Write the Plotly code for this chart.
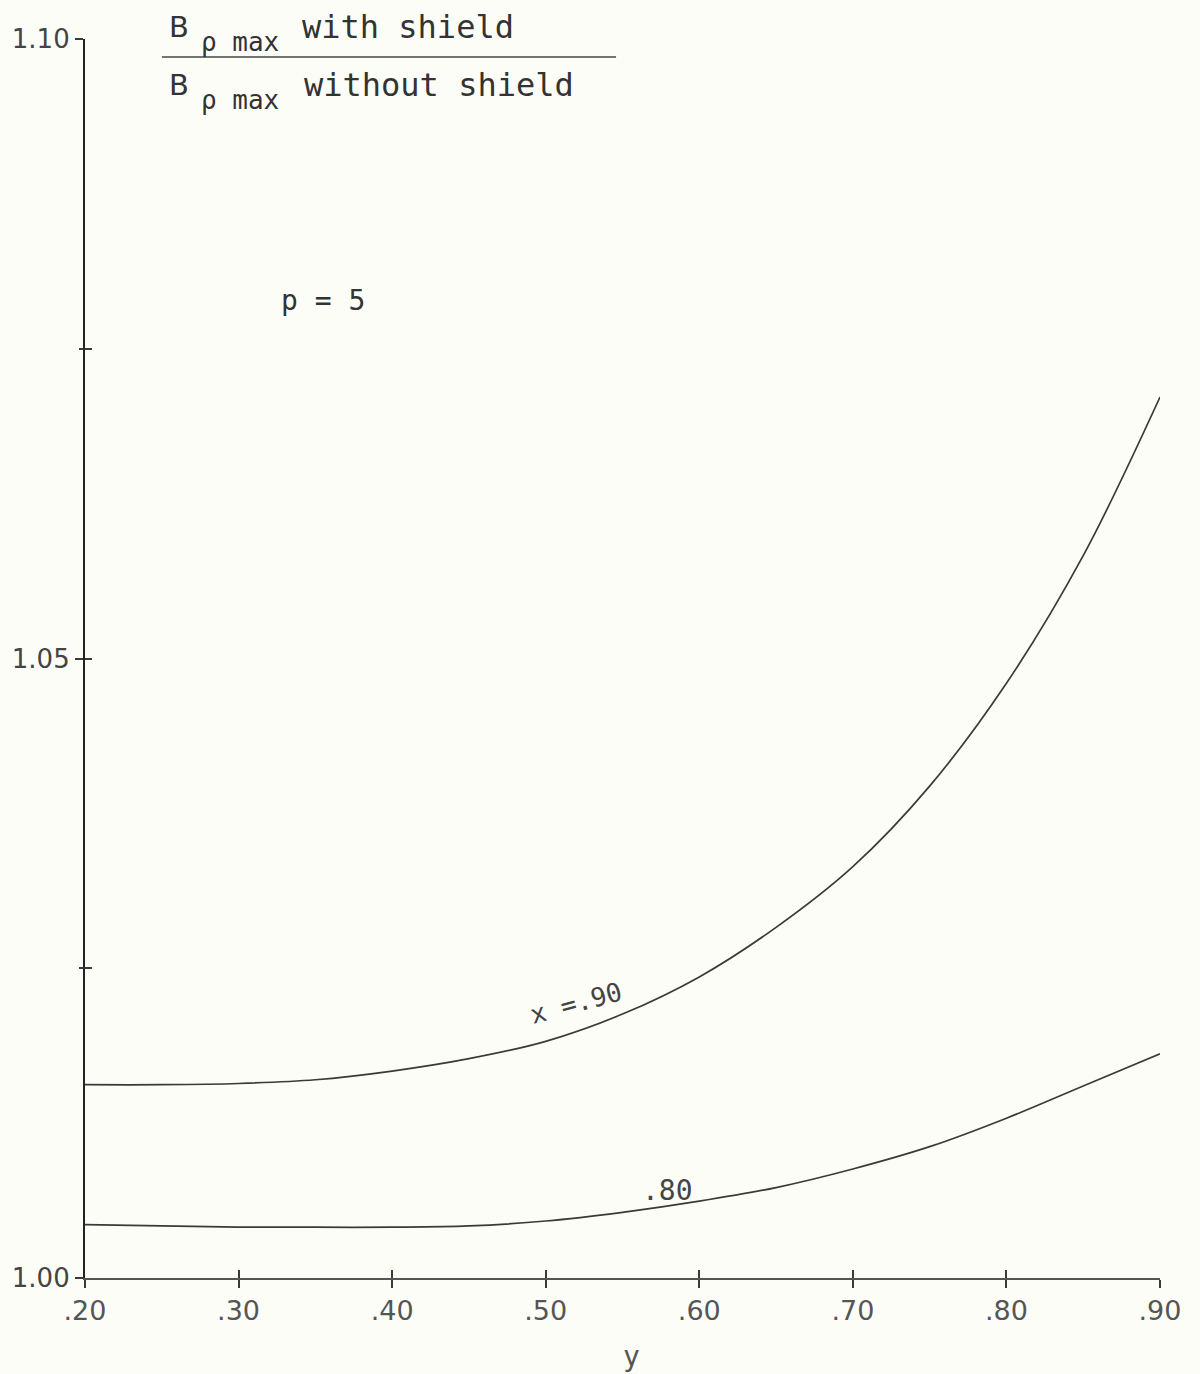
import plotly.graph_objects as go

# ---- data ----
y_vals = [0.20, 0.25, 0.30, 0.35, 0.40, 0.45, 0.50, 0.55, 0.60, 0.65, 0.70, 0.75, 0.80, 0.85, 0.90]
ratio_x90 = [1.0156, 1.0156, 1.0157, 1.0160, 1.0167, 1.0177, 1.0191, 1.0213, 1.0243, 1.0283,
             1.0332, 1.0397, 1.0480, 1.0583, 1.0711]
ratio_x80 = [1.0043, 1.0042, 1.0041, 1.0041, 1.0041, 1.0042, 1.0046, 1.0053, 1.0062, 1.0073,
             1.0088, 1.0106, 1.0129, 1.0155, 1.0181]

x_tickvals = [0.20, 0.30, 0.40, 0.50, 0.60, 0.70, 0.80, 0.90]
x_ticktext = [".20", ".30", ".40", ".50", ".60", ".70", ".80", ".90"]
y_label_vals = [1.00, 1.05, 1.10]
y_label_text = ["1.00", "1.05", "1.10"]
y_minor_vals = [1.025, 1.075]
y_all_vals = [1.00, 1.025, 1.05, 1.075, 1.10]

INK = "#3a3a3a"
BG = "#fdfdf8"
SANS = "DejaVu Sans"
MONO = "DejaVu Sans Mono"

fig = go.Figure()
for vals in (ratio_x90, ratio_x80):
    fig.add_trace(go.Scatter(x=y_vals, y=vals, mode="lines",
                             line=dict(color=INK, width=1.7, shape="spline", smoothing=1.0),
                             showlegend=False, hoverinfo="skip"))

# invisible traces so the overlay (tick-only) axes are drawn
fig.add_trace(go.Scatter(x=[0.2], y=[1.0], xaxis="x2", yaxis="y2", mode="markers",
                         marker=dict(opacity=0), showlegend=False, hoverinfo="skip"))
fig.add_trace(go.Scatter(x=[0.2], y=[1.0], xaxis="x2", yaxis="y3", mode="markers",
                         marker=dict(opacity=0), showlegend=False, hoverinfo="skip"))

fig.update_layout(
    width=1200, height=1374,
    margin=dict(l=83, r=40, t=39, b=96),
    paper_bgcolor=BG, plot_bgcolor=BG,
    font=dict(family=MONO, color=INK),
    xaxis=dict(range=[0.2, 0.9], tickvals=x_tickvals, ticktext=x_ticktext,
               ticks="outside", ticklen=8, tickwidth=1.5, tickcolor=INK,
               showline=True, linecolor="#555", linewidth=1.5, showgrid=False, zeroline=False,
               tickfont=dict(family=SANS, size=27, color="#555")),
    yaxis=dict(range=[1.0, 1.1], tickvals=y_label_vals, ticktext=y_label_text,
               ticks="outside", ticklen=8, tickwidth=1.5, tickcolor=INK,
               showline=True, linecolor="#222", linewidth=2.2, showgrid=False, zeroline=False,
               tickfont=dict(family=SANS, size=26, color="#444")),
    xaxis2=dict(range=[0.2, 0.9], overlaying="x", tickvals=x_tickvals, showticklabels=False,
                ticks="inside", ticklen=8, tickwidth=1.5, tickcolor=INK,
                showline=False, showgrid=False, zeroline=False),
    yaxis2=dict(range=[1.0, 1.1], overlaying="y", tickvals=y_all_vals, showticklabels=False,
                ticks="inside", ticklen=7, tickwidth=1.5, tickcolor=INK,
                showline=False, showgrid=False, zeroline=False),
    yaxis3=dict(range=[1.0, 1.1], overlaying="y", tickvals=y_minor_vals, showticklabels=False,
                ticks="outside", ticklen=5, tickwidth=1.5, tickcolor=INK,
                showline=False, showgrid=False, zeroline=False),
)

TXT = "#333"
# fraction label (numerator / denominator)
fig.add_annotation(xref="paper", yref="paper", x=0.0761, y=1.0097, xanchor="left", yanchor="middle",
                   text="B", showarrow=False, font=dict(family=SANS, size=29, color=TXT))
fig.add_annotation(xref="paper", yref="paper", x=0.1060, y=0.9975, xanchor="left", yanchor="middle",
                   text="ρ max", showarrow=False, font=dict(family=MONO, size=26, color=TXT))
fig.add_annotation(xref="paper", yref="paper", x=0.1996, y=1.0097, xanchor="left", yanchor="middle",
                   text="with shield", showarrow=False, font=dict(family=MONO, size=32, color=TXT))
fig.add_shape(type="line", xref="paper", yref="paper", x0=0.0715, x1=0.494,
              y0=0.9855, y1=0.9855, line=dict(color="#444", width=1.6))
fig.add_annotation(xref="paper", yref="paper", x=0.0761, y=0.9628, xanchor="left", yanchor="middle",
                   text="B", showarrow=False, font=dict(family=SANS, size=29, color=TXT))
fig.add_annotation(xref="paper", yref="paper", x=0.1060, y=0.9510, xanchor="left", yanchor="middle",
                   text="ρ max", showarrow=False, font=dict(family=MONO, size=26, color=TXT))
fig.add_annotation(xref="paper", yref="paper", x=0.2015, y=0.9628, xanchor="left", yanchor="middle",
                   text="without shield", showarrow=False, font=dict(family=MONO, size=32, color=TXT))

fig.add_annotation(xref="paper", yref="paper", x=0.180, y=0.789, xanchor="left", yanchor="middle",
                   text="p = 5", showarrow=False, font=dict(family=MONO, size=28, color=TXT))

# x-axis title "y"
fig.add_annotation(xref="paper", yref="paper", x=0.508, y=-0.063, xanchor="center", yanchor="middle",
                   text="y", showarrow=False, font=dict(family=MONO, size=28, color="#555"))

# curve labels
fig.add_annotation(x=0.5198, y=1.0222, text="x =.90", showarrow=False, textangle=-15,
                   font=dict(family=MONO, size=26, color="#444"))
fig.add_annotation(x=0.579, y=1.0071, text=".80", showarrow=False,
                   font=dict(family=MONO, size=28, color="#444"))

fig.write_html("out.html", config={"displayModeBar": False},
               post_script="document.body.style.margin='0';document.body.style.background='%s';" % BG)
